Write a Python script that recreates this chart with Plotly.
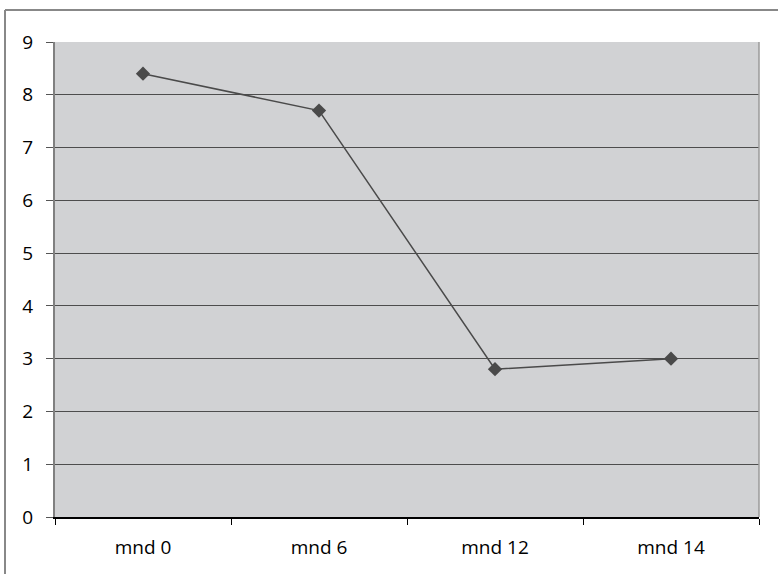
import plotly.graph_objects as go

categories = ["mnd 0", "mnd 6", "mnd 12", "mnd 14"]
values = [8.4, 7.7, 2.8, 3.0]
y_ticks = [0, 1, 2, 3, 4, 5, 6, 7, 8, 9]

fig = go.Figure()
fig.add_trace(go.Scatter(
    x=categories, y=values, mode="lines+markers",
    line=dict(color="#4a4a4a", width=1.5),
    marker=dict(symbol="diamond", size=11, color="#4a4a4a"),
    showlegend=False,
))

L, R, T, B = 55, 19, 42, 57
W, H = 778, 574
pw, ph = W - L - R, H - T - B

bx = (5 - L) / pw
by = 1 + (T - 10) / ph

fig.update_layout(
    width=W, height=H,
    margin=dict(l=L, r=R, t=T, b=B),
    paper_bgcolor="white",
    plot_bgcolor="#d1d2d4",
    font=dict(family="Open Sans, Noto Sans, sans-serif", size=19, color="black"),
    xaxis=dict(
        type="category", range=[-0.5, 3.5],
        showgrid=False, zeroline=False,
        showline=True, linecolor="black", linewidth=1.5,
        ticks="outside", tickson="boundaries", ticklen=6, tickcolor="black",
        ticklabelstandoff=12,
        tickfont=dict(size=19),
    ),
    yaxis=dict(
        range=[0, 9], tickvals=y_ticks,
        showgrid=True, gridcolor="#4d4d4d", gridwidth=1.3,
        zeroline=False,
        showline=True, linecolor="#808080", linewidth=2,
        ticks="outside", ticklen=7, tickcolor="#555555",
        ticklabelstandoff=9,
        tickfont=dict(size=19),
    ),
    shapes=[
        dict(type="line", xref="paper", yref="paper",
             x0=bx, x1=(W + 5 - L) / pw, y0=by, y1=by,
             line=dict(color="#888888", width=2), layer="below"),
        dict(type="line", xref="paper", yref="paper",
             x0=bx, x1=bx, y0=by, y1=-(B + 5) / ph,
             line=dict(color="#888888", width=2), layer="below"),
        dict(type="line", xref="paper", yref="paper",
             x0=1, x1=1, y0=0, y1=1,
             line=dict(color="#9a9a9a", width=1.5)),
    ],
)

fig.write_html("out.html", config={"displayModeBar": False},
               post_script="document.body.style.margin='0';")
